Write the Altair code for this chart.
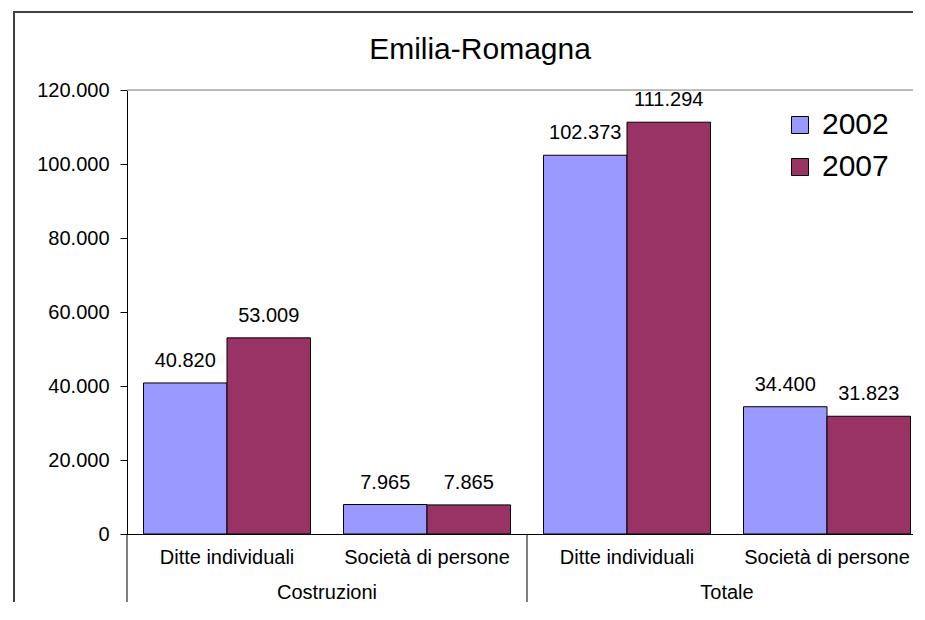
import altair as alt
import pandas as pd

# ---- data ----
groups = ["Costruzioni", "Costruzioni", "Totale", "Totale"]
subcats = ["Ditte individuali", "Società di persone", "Ditte individuali", "Società di persone"]
v2002 = [40820, 7965, 102373, 34400]
v2007 = [53009, 7865, 111294, 31823]
years = ["2002", "2007"]
year_colors = ["#9999FF", "#993366"]
y_ticks = [0, 20000, 40000, 60000, 80000, 100000, 120000]
title_text = "Emilia-Romagna"

keys = [f"{g}|{s}" for g, s in zip(groups, subcats)]
rows = []
for k, a, b in zip(keys, v2002, v2007):
    rows.append({"key": k, "year": years[0], "value": a})
    rows.append({"key": k, "year": years[1], "value": b})
df = pd.DataFrame(rows)

grp_df = pd.DataFrame({"key": [keys[1], keys[3]], "name": [groups[1], groups[3]]})
sep_df = pd.DataFrame({"key": [keys[0], keys[2]]})
top_df = pd.DataFrame({"v": [y_ticks[-1]]})
one = pd.DataFrame({"a": [0]})

W, H = 786, 444
PB = 68
FONT = "Liberation Sans"
STEP = 200
GAP = 33
fmt = "replace(format(datum.value, ','), ',', '.')"

xscale = alt.Scale(domain=keys, range=[0, STEP * 4],
                   paddingInner=GAP / STEP, paddingOuter=GAP / (2 * STEP))
yscale = alt.Scale(domain=[0, y_ticks[-1]], nice=False)
ox = alt.XOffset("year:N", scale=alt.Scale(paddingInner=0, paddingOuter=0))

bars = alt.Chart(df).mark_bar(stroke="black", strokeWidth=1).encode(
    x=alt.X("key:N", scale=xscale, title=None,
            axis=alt.Axis(labelExpr="split(datum.label, '|')[1]", ticks=False,
                          labelAngle=0, labelFontSize=20, labelFont=FONT,
                          labelColor="black", domainColor="black", labelPadding=13,
                          labelLimit=400)),
    xOffset=ox,
    y=alt.Y("value:Q", scale=yscale, title=None,
            axis=alt.Axis(values=y_ticks, labelExpr=fmt, grid=False, tickSize=7,
                          tickColor="black", domainColor="black", labelFontSize=20,
                          labelFont=FONT, labelPadding=11, labelColor="black")),
    color=alt.Color("year:N", scale=alt.Scale(domain=years, range=year_colors),
                    legend=alt.Legend(title=None, orient="none", legendX=658, legendY=20,
                                      symbolType="square", symbolSize=289,
                                      symbolStrokeColor="black", symbolStrokeWidth=1,
                                      labelFontSize=30, labelFont=FONT, labelColor="black",
                                      labelOffset=7, rowPadding=12, padding=0)),
)

vals = alt.Chart(df).transform_calculate(lbl=fmt).mark_text(
    baseline="alphabetic", dy=-16, fontSize=20, font=FONT, color="black"
).encode(
    x=alt.X("key:N", scale=xscale),
    xOffset=ox,
    y=alt.Y("value:Q", scale=yscale),
    text="lbl:N",
)

top_line = alt.Chart(top_df).mark_rule(color="#AAAAAA", strokeWidth=1.5).encode(
    y=alt.Y("v:Q", scale=yscale)
)

seps = alt.Chart(sep_df).mark_rule(color="black", strokeWidth=1, xOffset=-GAP / 2).encode(
    x=alt.X("key:N", scale=xscale, bandPosition=0),
    y=alt.value(H), y2=alt.value(H + PB),
)

grp_labels = alt.Chart(grp_df).mark_text(
    baseline="alphabetic", align="center", fontSize=20, font=FONT, color="black",
    xOffset=-GAP / 2
).encode(
    x=alt.X("key:N", scale=xscale, bandPosition=0),
    y=alt.value(H + 65),
    text="name:N",
)

title = alt.Chart(one).mark_text(
    baseline="alphabetic", align="center", fontSize=30, font=FONT, color="black"
).encode(x=alt.value(353), y=alt.value(-31), text=alt.value(title_text))

# outer chart-area frame; its right and bottom sides lie beyond the visible page
frame = alt.Chart(one).mark_rect(filled=False, stroke="#404040", strokeWidth=2).encode(
    x=alt.value(-113), x2=alt.value(W + 60), y=alt.value(-78), y2=alt.value(H + PB + 60)
)

chart = alt.layer(frame, top_line, bars, vals, seps, grp_labels, title).properties(
    width=W, height=H,
    autosize=alt.AutoSizeParams(type="none"),
    padding={"left": 119, "top": 82, "right": 0, "bottom": PB},
).configure_view(stroke=None).configure(background="white")

chart.save("out.html", embed_options={"renderer": "svg", "actions": False})
